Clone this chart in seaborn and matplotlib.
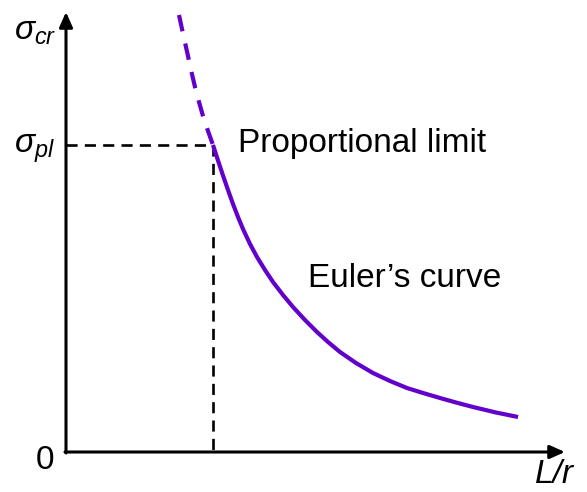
import matplotlib
matplotlib.use("Agg")
import matplotlib.pyplot as plt
import seaborn as sns
import pandas as pd

sns.set_theme(style="white")
plt.rcParams["font.family"] = ["Liberation Sans", "DejaVu Sans"]
plt.rcParams["text.color"] = "black"
plt.rcParams["mathtext.fontset"] = "custom"
plt.rcParams["mathtext.it"] = "Liberation Sans:italic"
plt.rcParams["mathtext.rm"] = "Liberation Sans"
plt.rcParams["lines.scale_dashes"] = False

# Euler curve, elastic range (below the proportional limit)
slenderness_elastic = [147, 152, 157, 162, 167, 172, 177, 184, 191, 199, 207, 217, 227,
                       239, 251, 262, 274, 290, 307, 324, 341, 357, 374, 390, 407, 430, 452]
stress_elastic = [307, 291.5, 276.5, 262, 248, 235, 223, 208, 195, 182, 170, 157, 145,
                  132, 120, 110, 100, 89, 79, 71, 64, 59, 54, 49.5, 45, 39.5, 35]

# Euler curve continued above the proportional limit (not valid)
slenderness_beyond = [113, 116, 119, 122, 125, 129, 133, 137, 142, 147]
stress_beyond = [437, 423, 409.5, 396, 382, 365, 350, 336, 321, 307]

# proportional limit point
limit_slenderness = 147
limit_stress = 307

# axis extents
x_axis_end = 499
y_axis_end = 440

purple = "#6200cc"

elastic = pd.DataFrame({"L/r": slenderness_elastic, "sigma": stress_elastic})
beyond = pd.DataFrame({"L/r": slenderness_beyond, "sigma": stress_beyond})

fig = plt.figure(figsize=(5.87, 4.92), dpi=100)
ax = fig.add_axes([0, 0, 1, 1])
ax.set_xlim(-66, 521)
ax.set_ylim(-40, 452)
ax.axis("off")

# guide lines to the proportional limit
guide = dict(sort=False, estimator=None, color="black", lw=1.9,
             linestyle=(0, (8.0, 5.2)), ax=ax)
sns.lineplot(x=[0, limit_slenderness], y=[limit_stress, limit_stress], **guide)
sns.lineplot(x=[limit_slenderness, limit_slenderness], y=[limit_stress, 0], **guide)

# curve
sns.lineplot(data=beyond, x="L/r", y="sigma", sort=False, estimator=None,
             color=purple, lw=3.0, linestyle=(0, (12.0, 9.0)), ax=ax)
sns.lineplot(data=elastic, x="L/r", y="sigma", sort=False, estimator=None,
             color=purple, lw=3.0, solid_capstyle="butt", solid_joinstyle="round", ax=ax)

# axes with arrow heads
arrow = dict(arrowstyle="-|>,head_length=0.9,head_width=0.4", mutation_scale=10,
             lw=2.2, color="black", shrinkA=0, shrinkB=0)
ax.annotate("", xy=(x_axis_end, 0), xytext=(-1, 0), arrowprops=arrow)
ax.annotate("", xy=(0, y_axis_end), xytext=(0, -1), arrowprops=arrow)

# labels
fs = 24
ax.text(-52, 412, r"$\sigma_{cr}$", fontsize=fs, ha="left", va="baseline")
ax.text(-52, 299, r"$\sigma_{pl}$", fontsize=fs, ha="left", va="baseline")
ax.text(-12, -17, "0", fontsize=fs, ha="right", va="baseline")
ax.text(469, -31, "L/r", fontsize=fs, style="italic", ha="left", va="baseline")
ax.text(172, 300, "Proportional limit", fontsize=fs, ha="left", va="baseline")
ax.text(242, 165, "Euler\u2019s curve", fontsize=fs, ha="left", va="baseline")

fig.savefig("out.png", dpi=100)
